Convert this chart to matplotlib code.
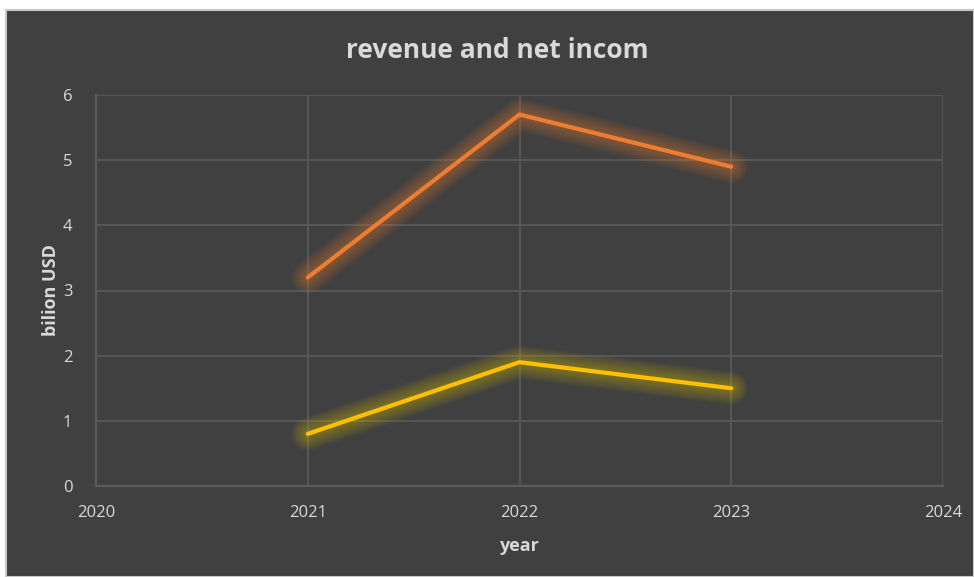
import matplotlib.pyplot as plt
from matplotlib.patches import Rectangle

years = [2021, 2022, 2023]
revenue = [3.2, 5.7, 4.9]
net_income = [0.8, 1.9, 1.5]
x_ticks = [2020, 2021, 2022, 2023, 2024]
y_ticks = [0, 1, 2, 3, 4, 5, 6]

bg = "#404040"
grid_col = "#5b5b5b"
text_col = "#d9d9d9"

plt.rcParams["font.family"] = ["Open Sans", "DejaVu Sans"]

W, H = 974, 577
fig = plt.figure(figsize=(W / 100, H / 100), dpi=100, facecolor="white")

# dark chart panel with a thin light frame
fig.patches.append(Rectangle((6 / W, 0), 1 - 6 / W, 1 - 10 / H, transform=fig.transFigure,
                             facecolor=bg, edgecolor="#c8c8c8", linewidth=1.5, zorder=0))

ax = fig.add_axes([96 / W, (H - 486) / H, (943 - 96) / W, (486 - 95) / H])
ax.set_zorder(2)
ax.set_facecolor(bg)
ax.set_xlim(2020, 2024)
ax.set_ylim(0, 6)
ax.set_xticks(x_ticks)
ax.set_yticks(y_ticks)
ax.grid(True, color=grid_col, linewidth=1.2)
ax.set_axisbelow(True)
for side in ["top", "right"]:
    ax.spines[side].set_visible(False)
for side in ["left", "bottom"]:
    ax.spines[side].set_color(grid_col)
    ax.spines[side].set_linewidth(1.5)
ax.tick_params(length=0, colors=text_col, labelsize=12)
ax.tick_params(axis="x", pad=14)
ax.tick_params(axis="y", pad=17)


def glow_line(xs, ys, color, glow):
    # soft halo built from stacked translucent strokes
    for w in range(24, 3, -2):
        ax.plot(xs, ys, color=glow, linewidth=w, alpha=0.045,
                solid_capstyle="round", solid_joinstyle="round")
    ax.plot(xs, ys, color=color, linewidth=3, solid_capstyle="round",
            solid_joinstyle="miter")


glow_line(years, revenue, "#ed7d31", "#ed7d31")
glow_line(years, net_income, "#ffc000", "#d8c000")

ax.set_xlabel("year", color=text_col, fontsize=13, fontweight="bold", labelpad=11)
ax.set_ylabel("bilion USD", color=text_col, fontsize=13, fontweight="bold", labelpad=2)

fig.text(497 / W, 1 - 50 / H, "revenue and net incom", color=text_col, fontsize=19,
         fontweight="bold", ha="center", va="center")

fig.savefig("out.png", dpi=100, facecolor="white")
